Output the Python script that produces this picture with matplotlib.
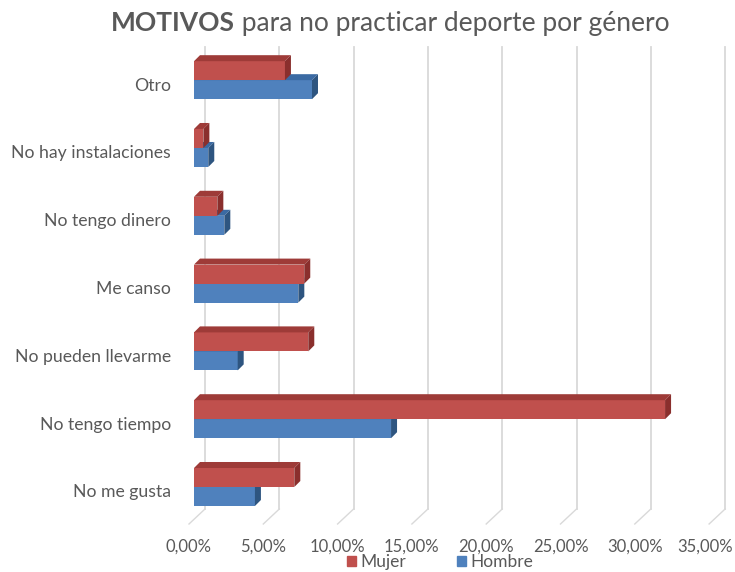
import matplotlib
matplotlib.use("Agg")
import matplotlib.pyplot as plt
from matplotlib.patches import Polygon, Patch
from matplotlib.transforms import ScaledTranslation

# data (percent), bottom category first
categorias = ["No me gusta", "No tengo tiempo", "No pueden llevarme", "Me canso",
              "No tengo dinero", "No hay instalaciones", "Otro"]
mujer = [6.75, 31.70, 7.69, 7.42, 1.57, 0.63, 6.12]
hombre = [4.10, 13.26, 2.94, 7.02, 2.04, 0.96, 7.94]
ticks = [0, 5, 10, 15, 20, 25, 30, 35]
tick_labels = ["0,00%", "5,00%", "10,00%", "15,00%", "20,00%", "25,00%", "30,00%", "35,00%"]

W, H = 735, 572
TXT = "#595959"
GRID = "#D9D9D9"
plt.rcParams["font.family"] = ["Lato", "DejaVu Sans"]

fig = plt.figure(figsize=(W / 100, H / 100), dpi=100)
# axes = front plane of the bars (pixel geometry)
x0_px, xr_px = 194, 194 + 35 * 14.86
ybot_px, ytop_px = 519, 47.3
ax = fig.add_axes([x0_px / W, 1 - ybot_px / H, (xr_px - x0_px) / W, (ybot_px - ytop_px) / H])
xmin, xmax = 0, 35
ymin, ymax = -0.472, 6.485
ax.set_xlim(xmin, xmax)
ax.set_ylim(ymin, ymax)
for s in ax.spines.values():
    s.set_visible(False)

# one pixel in data units
px_x = (xmax - xmin) / (xr_px - x0_px)
px_y = (ymax - ymin) / (ybot_px - ytop_px)

# back wall gridlines and floor lines
for t in ticks:
    ax.plot([t + 11 * px_x, t + 11 * px_x], [ymin + 10 * px_y, ymax],
            color=GRID, lw=1.3, clip_on=False, zorder=0)
    ax.plot([t - 5 * px_x, t + 11 * px_x], [ymin - 5 * px_y, ymin + 10 * px_y],
            color=GRID, lw=1.0, clip_on=False, zorder=0)

h = 19 * px_y
d = 6
series = [
    (hombre, -h / 2, "#4F81BD", "#3B6AA3", "#2E5580"),
    (mujer, h / 2, "#C0504D", "#9E3B38", "#8A2F2D"),
]
pos = list(range(len(categorias)))
for vals, shift, c_front, c_top, c_side in series:
    ys = [p + shift for p in pos]
    ax.barh(ys, vals, height=h, color=c_front, zorder=2)
    for y, v in zip(ys, vals):
        top, bot = y + h / 2, y - h / 2
        dx, dy = d * px_x, d * px_y
        ax.add_patch(Polygon([(0, top), (v, top), (v + dx, top + dy), (dx, top + dy)],
                             closed=True, color=c_top, lw=0, zorder=2, clip_on=False))
        ax.add_patch(Polygon([(v, bot), (v, top), (v + dx, top + dy), (v + dx, bot + dy)],
                             closed=True, color=c_side, lw=0, zorder=2, clip_on=False))

ax.set_xticks(ticks)
ax.set_xticklabels(tick_labels)
ax.set_yticks(pos)
ax.set_yticklabels(categorias)
ax.tick_params(axis="x", length=0, pad=14, labelsize=12, labelcolor=TXT)
ax.tick_params(axis="y", length=0, pad=16.5, labelsize=12.7, labelcolor=TXT)
xlbls = ax.get_xticklabels()
for i, lbl in enumerate(xlbls):
    shift = -5 if i < len(xlbls) - 1 else -9  # keep last label inside the canvas
    lbl.set_transform(lbl.get_transform() + ScaledTranslation(shift / 100, 0, fig.dpi_scale_trans))
for lbl in ax.get_yticklabels():
    lbl.set_transform(lbl.get_transform() + ScaledTranslation(0, -4 / 100, fig.dpi_scale_trans))

# title: bold part + regular part
t1 = fig.text(111 / W, 1 - 31 / H, "MOTIVOS", fontsize=19, fontweight="bold",
              color=TXT, ha="left", va="baseline")
t2 = fig.text(0, 1 - 31 / H, " para no practicar deporte por género", fontsize=19,
              color=TXT, ha="left", va="baseline")
fig.canvas.draw()
t2.set_x(t1.get_window_extent().x1 / W)

handles = [Patch(color="#C0504D", label="Mujer"), Patch(color="#4F81BD", label="Hombre")]
fig.legend(handles=handles, loc="center", bbox_to_anchor=(440 / W, 1 - 562 / H),
           ncol=2, frameon=False, fontsize=12.5, labelcolor=TXT,
           handlelength=0.55, handleheight=0.55, handletextpad=0.25, columnspacing=2.9,
           borderpad=0, borderaxespad=0)

fig.savefig("out.png", dpi=100)
